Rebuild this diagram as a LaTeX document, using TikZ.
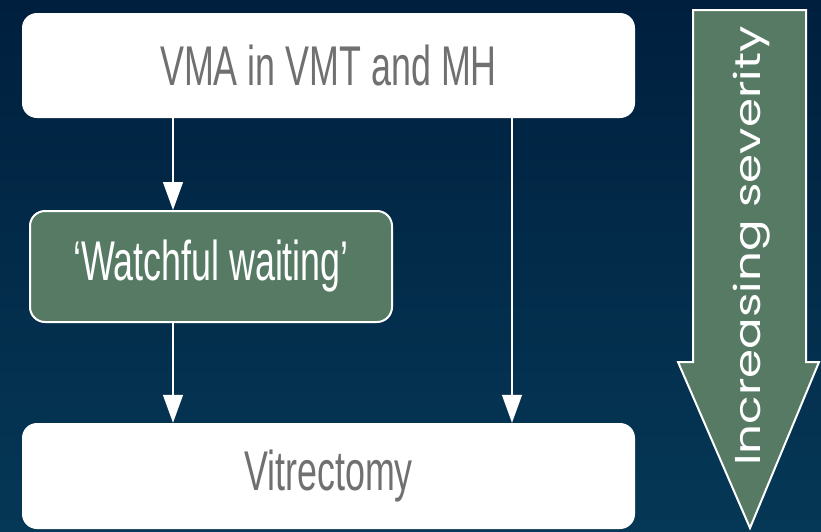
\documentclass[tikz,border=0pt]{standalone}
\usepackage{fontspec}
\usetikzlibrary{arrows.meta}
\newfontfamily\condfont[FakeStretch=0.64]{Liberation Sans}
\newfontfamily\widefont[FakeStretch=1.3]{Poppins}
\definecolor{navytop}{HTML}{001F3E}
\definecolor{navybot}{HTML}{053856}
\definecolor{sage}{HTML}{567A64}
\definecolor{labelgray}{HTML}{707070}
\tikzset{
  whitebox/.style={draw=none, fill=white, rounded corners=15pt, inner sep=0pt,
    font=\condfont\fontsize{56}{60}\selectfont, text=labelgray},
  greenbox/.style={draw=white, line width=2pt, fill=sage, rounded corners=15pt,
    inner sep=0pt, font=\condfont\fontsize{56}{60}\selectfont, text=white},
  conn/.style={draw=white, line width=1.3pt,
    -{Triangle[width=20pt,length=28pt,fill=white]}},
}
\begin{document}
\begin{tikzpicture}[x=1pt,y=-1pt]
  % background
  \shade[top color=navytop, bottom color=navybot] (0,0) rectangle (821,531);
  \useasboundingbox (0,0) rectangle (821,531);

  % boxes
  \node[whitebox, minimum width=613pt, minimum height=105pt] (top) at (328.5,65.5) {VMA in VMT and MH};
  \node[greenbox, minimum width=362pt, minimum height=111pt] (wait) at (211,266.5) {‘Watchful waiting’};
  \node[whitebox, minimum width=613pt, minimum height=106pt] (vit) at (328.5,476) {Vitrectomy};

  % connector columns
  \coordinate (left) at (173,0);
  \coordinate (right) at (512,0);
  \draw[conn] (top.south -| left) -- (wait.north -| left);
  \draw[conn] (wait.south -| left) -- (vit.north -| left);
  \draw[conn] (top.south -| right) -- (vit.north -| right);

  % severity arrow
  \draw[draw=white, line width=2pt, fill=sage, line join=miter]
    (693,10) -- (806,10) -- (806,362) -- (819,362) -- (750,528)
    -- (678,362) -- (693,362) -- cycle;
  \node[rotate=90, anchor=base, text=white, font=\widefont\fontsize{36}{40}\selectfont, inner sep=0pt]
    (sev) at (760,246) {Increasing severity};
\end{tikzpicture}
\end{document}
